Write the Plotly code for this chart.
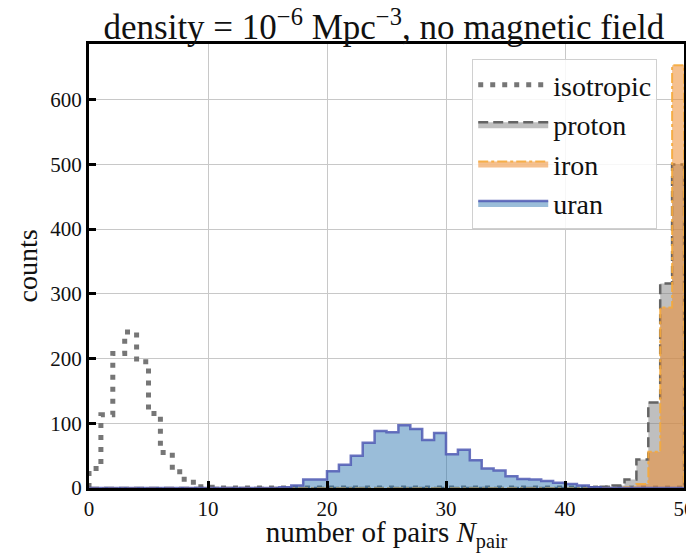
import plotly.graph_objects as go

bin_edges = list(range(0, 51))

isotropic = [30, 113, 208, 241, 195, 115, 55, 25, 9, 2, 1] + [0] * 39
proton = [0] * 42 + [1, 2, 4, 13, 44, 132, 316, 500]
iron = [0] * 45 + [1, 6, 56, 279, 653]
uran = ([0] * 16 + [1, 4, 13, 13, 26, 36, 50, 70, 88, 86, 97, 91, 74, 85, 52, 59, 43, 30, 27,
                    18, 14, 13, 11, 8, 6, 4, 1] + [0] * 7)

series_names = ["isotropic", "proton", "iron", "uran"]


def step_xy(counts):
    xs = [bin_edges[0]] + bin_edges[:-1] + [bin_edges[-1], bin_edges[-1]]
    ys = [0] + counts + [counts[-1], 0]
    return xs, ys


styles = {
    "isotropic": dict(line=dict(color="#767676", width=5, dash="5px,7px"), fill="none", fillcolor=None),
    "proton": dict(line=dict(color="#646464", width=2.5, dash="10px,5px"), fill="tozeroy",
                   fillcolor="rgba(128,128,128,0.5)"),
    "iron": dict(line=dict(color="rgba(245,170,60,0.9)", width=2, dash="10px,3px,3px,3px"), fill="tozeroy",
                 fillcolor="rgba(236,140,50,0.55)"),
    "uran": dict(line=dict(color="rgba(80,90,180,0.85)", width=2.5, dash="solid"), fill="tozeroy",
                 fillcolor="rgba(40,115,175,0.47)"),
}

data = {"isotropic": isotropic, "proton": proton, "iron": iron, "uran": uran}

fig = go.Figure()
for name in series_names:
    xs, ys = step_xy(data[name])
    st = styles[name]
    kw = dict(x=xs, y=ys, mode="lines", line_shape="hv", name=name, line=st["line"],
              legendgroup=name)
    if st["fill"] != "none":
        kw["fill"] = st["fill"]
        kw["fillcolor"] = st["fillcolor"]
    fig.add_trace(go.Scatter(**kw))

font_family = "Liberation Serif, DejaVu Serif, serif"

# page body adds an 8px margin, so the figure is 686x545
fig.update_layout(
    width=686, height=545,
    margin=dict(l=81, r=10, t=36, b=65, autoexpand=False),
    paper_bgcolor="white", plot_bgcolor="white",
    font=dict(family=font_family, size=20, color="#111111"),
    title=dict(text="density = 10<sup>−6</sup> Mpc<sup>−3</sup>, no magnetic field",
               x=0.548, xanchor="center", xref="container", y=0.965, yanchor="middle",
               font=dict(size=35, family=font_family, color="#111111")),
    xaxis=dict(range=[0, 50], tickmode="array", tickvals=[0, 10, 20, 30, 40, 50],
               ticks="inside", ticklen=7, tickwidth=3, tickcolor="black",
               showline=True, linewidth=3, linecolor="black", mirror=True,
               showgrid=True, gridcolor="#c8c8c8", gridwidth=1, zeroline=False,
               automargin=False, ticklabeloverflow="allow",
               title=dict(text="number of pairs <i>N</i><sub>pair</sub>", font=dict(size=29),
                          standoff=6),
               tickfont=dict(size=21)),
    yaxis=dict(range=[0, 686], tickmode="array", tickvals=[0, 100, 200, 300, 400, 500, 600],
               ticks="inside", ticklen=7, tickwidth=3, tickcolor="black",
               showline=True, linewidth=3, linecolor="black", mirror=True,
               showgrid=True, gridcolor="#c8c8c8", gridwidth=1, zeroline=False,
               automargin=False,
               title=dict(text="counts", font=dict(size=28), standoff=5),
               tickfont=dict(size=21)),
    legend=dict(x=0.955, xanchor="right", y=0.966, yanchor="top",
                bgcolor="rgba(255,255,255,0.85)", bordercolor="#d0d0d0", borderwidth=1,
                font=dict(size=28, family=font_family), tracegroupgap=11,
                itemwidth=70, traceorder="normal"),
    showlegend=True,
)

fig.write_html("out.html")
